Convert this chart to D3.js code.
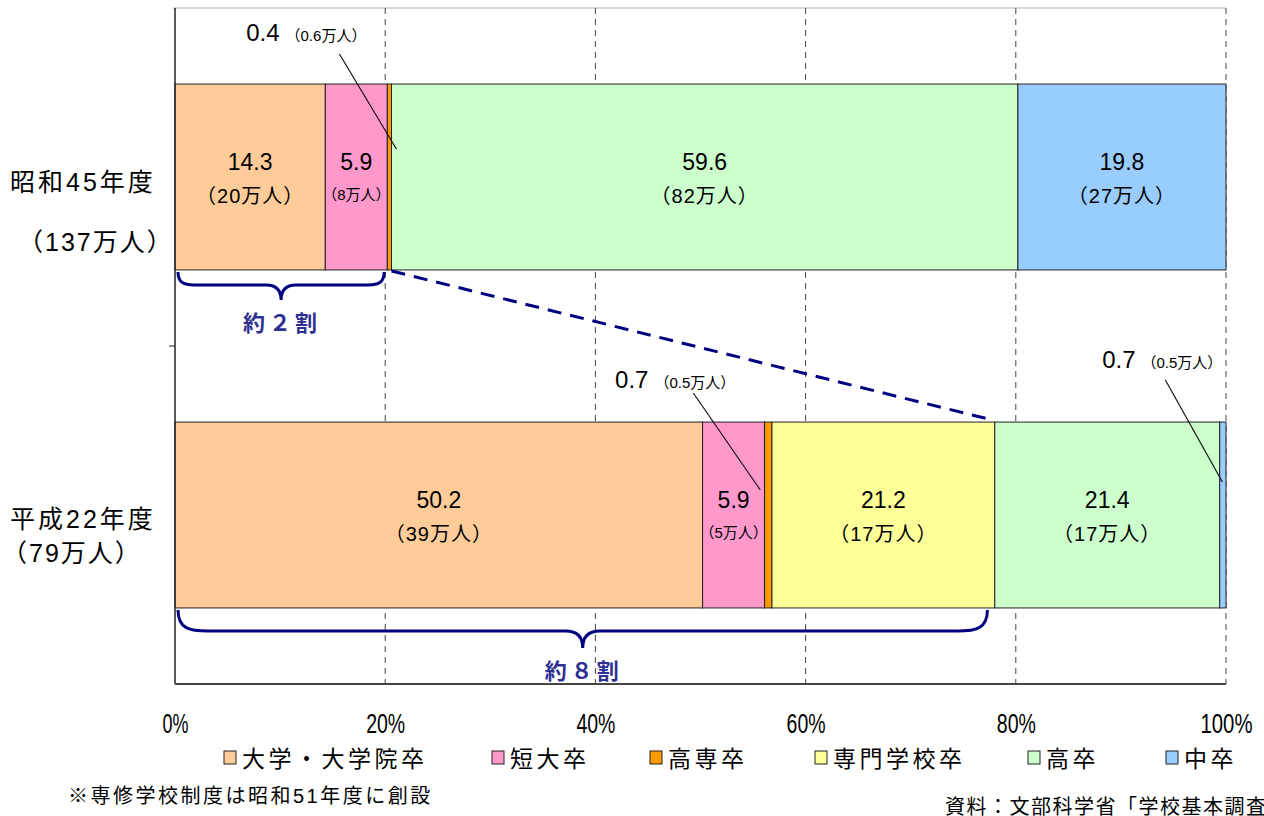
<!DOCTYPE html>
<html>
<head>
<meta charset="utf-8">
<title>進学状況</title>
<style>
  body { margin: 0; background: #fff; }
  svg text { font-family: "Liberation Sans", "Noto Sans CJK JP", sans-serif; }
</style>
</head>
<body>
<div id="chart-holder"></div>
<script src="https://d3js.org/d3.v7.min.js"></script>
<script>
// data
var years = ['昭和45年度', '平成22年度'];
var yearTotals = ['（137万人）', '（79万人）'];
var categories = ['大学・大学院卒', '短大卒', '高専卒', '専門学校卒', '高卒', '中卒'];
var colors = ['#FFCC99', '#FF99CC', '#FF9900', '#FFFF99', '#CCFFCC', '#99CCFF'];
var shareS45 = [14.3, 5.9, 0.4, 0, 59.6, 19.8];
var shareH22 = [50.2, 5.9, 0.7, 21.2, 21.4, 0.7];
var peopleS45 = ['20', '8', '0.6', '', '82', '27'];
var peopleH22 = ['39', '5', '0.5', '17', '17', '0.5'];
var tickValues = [0, 20, 40, 60, 80, 100];
var braceLabels = ['約２割', '約８割'];
var footnote = '※専修学校制度は昭和51年度に創設';
var source = '資料：文部科学省「学校基本調査」';

var width = 1264;
var height = 816;
var margin = {top: 8, right: 38, bottom: 132, left: 175};
var innerWidth = width - margin.left - margin.right;
var innerHeight = height - margin.top - margin.bottom;

var svg = d3.select('#chart-holder')
            .append('svg')
            .attr('width', width)
            .attr('height', height);

var g = svg.append('g')
           .attr('transform', 'translate(' + margin.left + ',' + margin.top + ')');

var x = d3.scaleLinear().domain([0, 100]).range([0, innerWidth]);
var y = d3.scaleBand().domain(years).range([0, innerHeight])
          .paddingInner(0.45).paddingOuter(0.225);

// build stacked rows
var shares = [shareS45, shareH22];
var people = [peopleS45, peopleH22];
var rows = [];
years.forEach(function(yr, i) {
    var acc = 0;
    categories.forEach(function(c, j) {
        rows.push({year: yr, yi: i, ci: j, cat: c, v: shares[i][j], p: people[i][j], x0: acc, x1: acc + shares[i][j]});
        acc += shares[i][j];
    });
});

// top frame line
g.append('line')
 .attr('x1', -2).attr('x2', innerWidth)
 .attr('y1', 0).attr('y2', 0)
 .attr('stroke', '#d9d9d9').attr('stroke-width', 2);

// grid lines
g.selectAll('.grid')
 .data(tickValues.filter(function(t) { return t > 0; }))
 .enter()
 .append('line')
 .attr('class', 'grid')
 .attr('x1', function(d) { return x(d); })
 .attr('x2', function(d) { return x(d); })
 .attr('y1', 0).attr('y2', innerHeight)
 .attr('stroke', '#444')
 .attr('stroke-width', 1)
 .attr('stroke-dasharray', '6,5');

// bars
g.selectAll('.seg')
 .data(rows.filter(function(d) { return d.v > 0; }))
 .enter()
 .append('rect')
 .attr('class', 'seg')
 .attr('x', function(d) { return x(d.x0); })
 .attr('width', function(d) { return Math.min(x(d.x1), innerWidth) - x(d.x0); })
 .attr('y', function(d) { return y(d.year); })
 .attr('height', y.bandwidth())
 .attr('fill', function(d) { return colors[d.ci]; })
 .attr('stroke', '#222')
 .attr('stroke-width', 1);

// labels inside segments
var big = rows.filter(function(d) { return d.v >= 5; });
var lbl = g.selectAll('.seg-label')
 .data(big)
 .enter()
 .append('g')
 .attr('class', 'seg-label')
 .attr('transform', function(d) {
     return 'translate(' + x((d.x0 + d.x1) / 2) + ',' + (y(d.year) + y.bandwidth() / 2) + ')';
 });
lbl.append('text')
   .attr('text-anchor', 'middle')
   .attr('y', -7)
   .attr('font-size', '23px')
   .attr('fill', '#000')
   .text(function(d) { return d.v.toFixed(1); });
lbl.append('text')
   .attr('text-anchor', 'middle')
   .attr('y', function(d) { return d.v < 10 ? 23 : 26; })
   .attr('font-size', function(d) { return d.v < 10 ? '15px' : '20px'; })
   .attr('letter-spacing', function(d) { return d.v < 10 ? '0px' : '1px'; })
   .attr('fill', '#000')
   .text(function(d) { return '（' + d.p + '万人）'; });

// leader labels for thin segments
var thin = rows.filter(function(d) { return d.v > 0 && d.v < 5; });
var leaderPos = [
    {dx: -23, ty: -136, lx: -50, ly: -123, ex: 7, ey: -28},
    {dx: -33, ty: -127, lx: -75, ly: -122, ex: -8, ey: -25},
    {dx: -1, ty: -147, lx: -58, ly: -135, ex: -1, ey: -33}
];
thin.forEach(function(d, i) {
    var cx = x((d.x0 + d.x1) / 2);
    var cy = y(d.year) + y.bandwidth() / 2;
    var p = leaderPos[i];
    var t = g.append('text')
             .attr('x', cx + p.dx)
             .attr('y', cy + p.ty)
             .attr('text-anchor', 'end')
             .attr('fill', '#000');
    t.append('tspan').attr('font-size', '24px').text(d.v.toFixed(1));
    t.append('tspan').attr('font-size', '15px').attr('dx', 6).text('（' + d.p + '万人）');
    g.append('line')
     .attr('x1', cx + p.lx).attr('y1', cy + p.ly)
     .attr('x2', cx + p.ex).attr('y2', cy + p.ey)
     .attr('stroke', '#111').attr('stroke-width', 1.2);
});

// axes frame
g.append('line')
 .attr('x1', 0).attr('x2', 0).attr('y1', 0).attr('y2', innerHeight)
 .attr('stroke', '#222').attr('stroke-width', 1.5);
g.append('line')
 .attr('x1', 0).attr('x2', innerWidth).attr('y1', innerHeight).attr('y2', innerHeight)
 .attr('stroke', '#444').attr('stroke-width', 2);
g.append('line')
 .attr('x1', -6).attr('x2', 0).attr('y1', innerHeight / 2).attr('y2', innerHeight / 2)
 .attr('stroke', '#222').attr('stroke-width', 1);

// x axis labels
var xAxis = d3.axisBottom(x)
              .tickValues(tickValues)
              .tickSize(0)
              .tickPadding(30)
              .tickFormat(function(d) { return d + '%'; });
var xa = g.append('g')
          .attr('class', 'x-axis')
          .attr('transform', 'translate(0,' + innerHeight + ')')
          .call(xAxis);
xa.select('.domain').remove();
xa.selectAll('text')
  .attr('font-family', '"Liberation Sans", sans-serif')
  .attr('font-size', '27px')
  .attr('fill', '#000')
  .attr('textLength', function(d) { return (String(d).length + 1) * 13; })
  .attr('lengthAdjust', 'spacingAndGlyphs');

// y category labels
var catDy = [[14, 74], [13, 47]];
var catDx = [[10, 18], [10, 2]];
years.forEach(function(yr, i) {
    var cy = margin.top + y(yr) + y.bandwidth() / 2;
    svg.append('text')
       .attr('x', catDx[i][0]).attr('y', cy + catDy[i][0])
       .attr('font-size', '25px')
       .attr('letter-spacing', '3px')
       .attr('fill', '#000')
       .text(yr);
    svg.append('text')
       .attr('x', catDx[i][1]).attr('y', cy + catDy[i][1])
       .attr('font-size', '25px')
       .attr('letter-spacing', '2px')
       .attr('fill', '#000')
       .text(yearTotals[i]);
});

// braces
var navy = '#000080';
function brace(x0, x1, yTop, depth, tip, rx) {
    var mid = (x0 + x1) / 2;
    var yh = yTop + depth;
    return 'M' + x0 + ',' + yTop +
        ' C' + x0 + ',' + (yh - 2) + ' ' + (x0 + rx * 0.4) + ',' + yh + ' ' + (x0 + rx) + ',' + yh +
        ' L' + (mid - tip) + ',' + yh +
        ' Q' + mid + ',' + yh + ' ' + mid + ',' + (yh + tip) +
        ' Q' + mid + ',' + yh + ' ' + (mid + tip) + ',' + yh +
        ' L' + (x1 - rx) + ',' + yh +
        ' C' + (x1 - rx * 0.4) + ',' + yh + ' ' + x1 + ',' + (yh - 2) + ' ' + x1 + ',' + yTop;
}
var braceEnds = [
    {y: years[0], x1: shareS45[0] + shareS45[1] - 0.3, depth: 13, tip: 15, rx: 16},
    {y: years[1], x1: shareH22[0] + shareH22[1] + shareH22[2] + shareH22[3] - 0.7, depth: 21, tip: 17, rx: 30}
];
braceEnds.forEach(function(b, i) {
    var yTop = y(b.y) + y.bandwidth() + 2;
    var x0 = x(0) + 3, x1 = x(b.x1);
    g.append('path')
     .attr('d', brace(x0, x1, yTop, b.depth, b.tip, b.rx))
     .attr('fill', 'none')
     .attr('stroke', navy)
     .attr('stroke-width', 3);
    g.append('text')
     .attr('x', (x0 + x1) / 2 + 1)
     .attr('y', yTop + b.depth + b.tip + 31)
     .attr('text-anchor', 'middle')
     .attr('font-family', '"Noto Sans CJK JP", sans-serif')
     .attr('font-weight', 'bold')
     .attr('font-size', '22px')
     .attr('letter-spacing', '4px')
     .attr('fill', '#2E3192')
     .text(braceLabels[i]);
});

// dashed connector
g.append('line')
 .attr('x1', x(shareS45[0] + shareS45[1] + shareS45[2]))
 .attr('y1', y(years[0]) + y.bandwidth() + 1)
 .attr('x2', x(braceEnds[1].x1) + 1)
 .attr('y2', y(years[1]) - 3)
 .attr('stroke', navy)
 .attr('stroke-width', 3)
 .attr('stroke-dasharray', '14,9');

// legend
var legendX = [224, 492, 650, 815, 1028, 1166];
var legendY = 758;
var legend = svg.append('g').attr('class', 'legend');
categories.forEach(function(c, i) {
    legend.append('rect')
          .attr('x', legendX[i]).attr('y', legendY - 7)
          .attr('width', 12).attr('height', 13)
          .attr('fill', colors[i])
          .attr('stroke', '#222').attr('stroke-width', 1);
    legend.append('text')
          .attr('x', legendX[i] + 18).attr('y', legendY + 9)
          .attr('font-size', '23px')
          .attr('letter-spacing', '3.5px')
          .attr('fill', '#000')
          .text(c);
});

// notes
svg.append('text')
   .attr('x', 68).attr('y', 803)
   .attr('font-size', '20px')
   .attr('letter-spacing', '2.5px')
   .attr('fill', '#000')
   .text(footnote);
svg.append('text')
   .attr('x', 945).attr('y', 814)
   .attr('font-size', '20px')
   .attr('letter-spacing', '1.5px')
   .attr('fill', '#000')
   .text(source);
</script>
</body>
</html>
